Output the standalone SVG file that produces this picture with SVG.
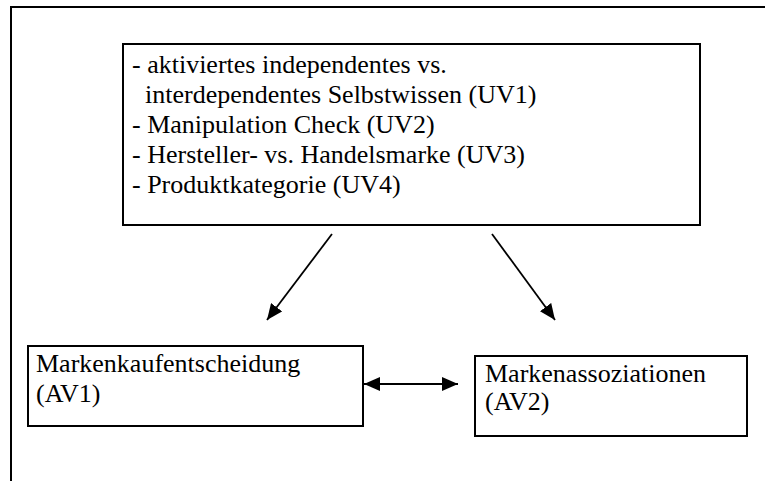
<svg xmlns="http://www.w3.org/2000/svg" width="767" height="481" viewBox="0 0 767 481">
  <defs>
    <marker id="head" viewBox="0 0 16 14" refX="16" refY="7" markerWidth="16" markerHeight="14" markerUnits="userSpaceOnUse" orient="auto-start-reverse">
      <path d="M0,0 L16,7 L0,14 z" fill="#000"/>
    </marker>
    <style>
      .box { fill: #fff; stroke: #000; stroke-width: 2; }
      .frame { fill: none; stroke: #000; stroke-width: 2; }
      .lbl { font-family: 'Liberation Serif', 'DejaVu Serif', 'Noto Serif', serif; font-size: 26px; fill: #000; }
      .conn { stroke: #000; stroke-width: 1.8; fill: none; }
    </style>
  </defs>
  <rect width="767" height="481" fill="#fff"/>

  <!-- page frame: top and left edges only -->
  <path class="frame" d="M11,481 L11,7 L765,7"/>

  <g id="uv-box">
    <rect class="box" x="123" y="44" width="577" height="181"/>
    <text class="lbl" x="132" y="73">- aktiviertes independentes vs.</text>
    <text class="lbl" x="145" y="103">interdependentes Selbstwissen (UV1)</text>
    <text class="lbl" x="132" y="133">- Manipulation Check (UV2)</text>
    <text class="lbl" x="132" y="163">- Hersteller- vs. Handelsmarke (UV3)</text>
    <text class="lbl" x="132" y="193">- Produktkategorie (UV4)</text>
  </g>

  <g id="av1-box">
    <rect class="box" x="28" y="346" width="335" height="80"/>
    <text class="lbl" x="36" y="372">Markenkaufentscheidung</text>
    <text class="lbl" x="36" y="402">(AV1)</text>
  </g>

  <g id="av2-box">
    <rect class="box" x="475" y="356" width="272" height="80"/>
    <text class="lbl" x="485" y="382">Markenassoziationen</text>
    <text class="lbl" x="485" y="410">(AV2)</text>
  </g>

  <g id="connectors">
    <line class="conn" x1="332" y1="234" x2="267" y2="320" marker-end="url(#head)"/>
    <line class="conn" x1="492" y1="234" x2="555" y2="320" marker-end="url(#head)"/>
    <line class="conn" x1="364" y1="384" x2="458" y2="384" marker-start="url(#head)" marker-end="url(#head)"/>
  </g>
</svg>
